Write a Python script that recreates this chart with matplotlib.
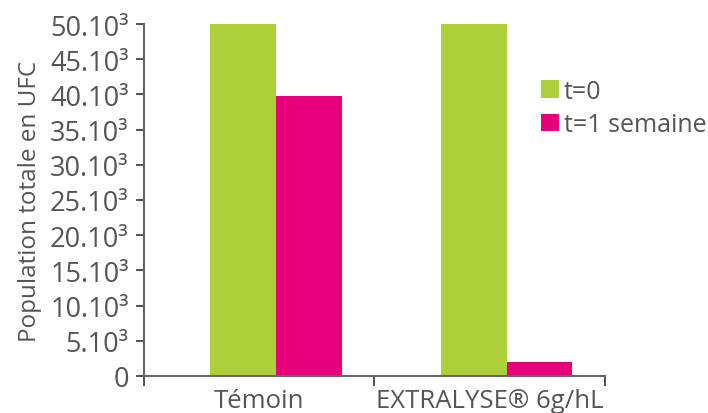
import matplotlib
matplotlib.use("Agg")
import matplotlib.pyplot as plt
import numpy as np
from matplotlib.patches import Patch

categories = ["Témoin", "EXTRALYSE® 6g/hL"]
series_names = ["t=0", "t=1 semaine"]
t0_values = [50000, 50000]
t1_values = [39800, 2000]
yticks = [0, 5000, 10000, 15000, 20000, 25000, 30000, 35000, 40000, 45000, 50000]
ytick_labels = ["0", "5.10³", "10.10³", "15.10³", "20.10³", "25.10³",
                "30.10³", "35.10³", "40.10³", "45.10³", "50.10³"]

green = "#ADCF39"
magenta = "#E6007A"
text_col = "#555555"
axis_col = "#666666"

plt.rcParams["font.family"] = ["Open Sans", "DejaVu Sans"]

fig = plt.figure(figsize=(7.08, 4.14), dpi=100)
ax = fig.add_axes([0.2034, 0.0894, 0.6511, 0.8502])

x = np.arange(len(categories))
w = 0.286
start = -0.213
ax.bar(x + start, t0_values, width=w, align="edge", color=green, label=series_names[0])
ax.bar(x + start + w, t1_values, width=w, align="edge", color=magenta, label=series_names[1])

ax.set_xlim(-0.5, len(categories) - 0.5)
ax.set_ylim(0, 50000)

ax.set_yticks(yticks)
ax.set_yticklabels(ytick_labels)
ax.set_xticks(x)
ax.set_xticklabels(categories)
ax.set_xticks(np.arange(len(categories) + 1) - 0.5, minor=True)

ax.tick_params(axis="x", which="major", length=0, pad=9, labelsize=18.5, labelcolor=text_col)
ax.tick_params(axis="x", which="minor", length=7, width=1.2, color="#333333", direction="out")
ax.tick_params(axis="y", which="major", length=6, width=1.2, color="#333333", pad=5,
               labelsize=19.5, labelcolor=text_col)

for s in ["top", "right"]:
    ax.spines[s].set_visible(False)
for s in ["left", "bottom"]:
    ax.spines[s].set_color(axis_col)
    ax.spines[s].set_linewidth(1.5)

ax.set_ylabel("Population totale en UFC", fontsize=17.5, color=text_col, labelpad=6)

handles = [Patch(facecolor=green), Patch(facecolor=magenta)]
leg = ax.legend(handles, series_names, loc="upper left", bbox_to_anchor=(0.84, 0.873),
                frameon=False, fontsize=18, handlelength=0.7, handleheight=0.7,
                handletextpad=0.2, labelspacing=0.35, borderaxespad=0)
for t in leg.get_texts():
    t.set_color(text_col)

fig.savefig("out.png", dpi=100)
